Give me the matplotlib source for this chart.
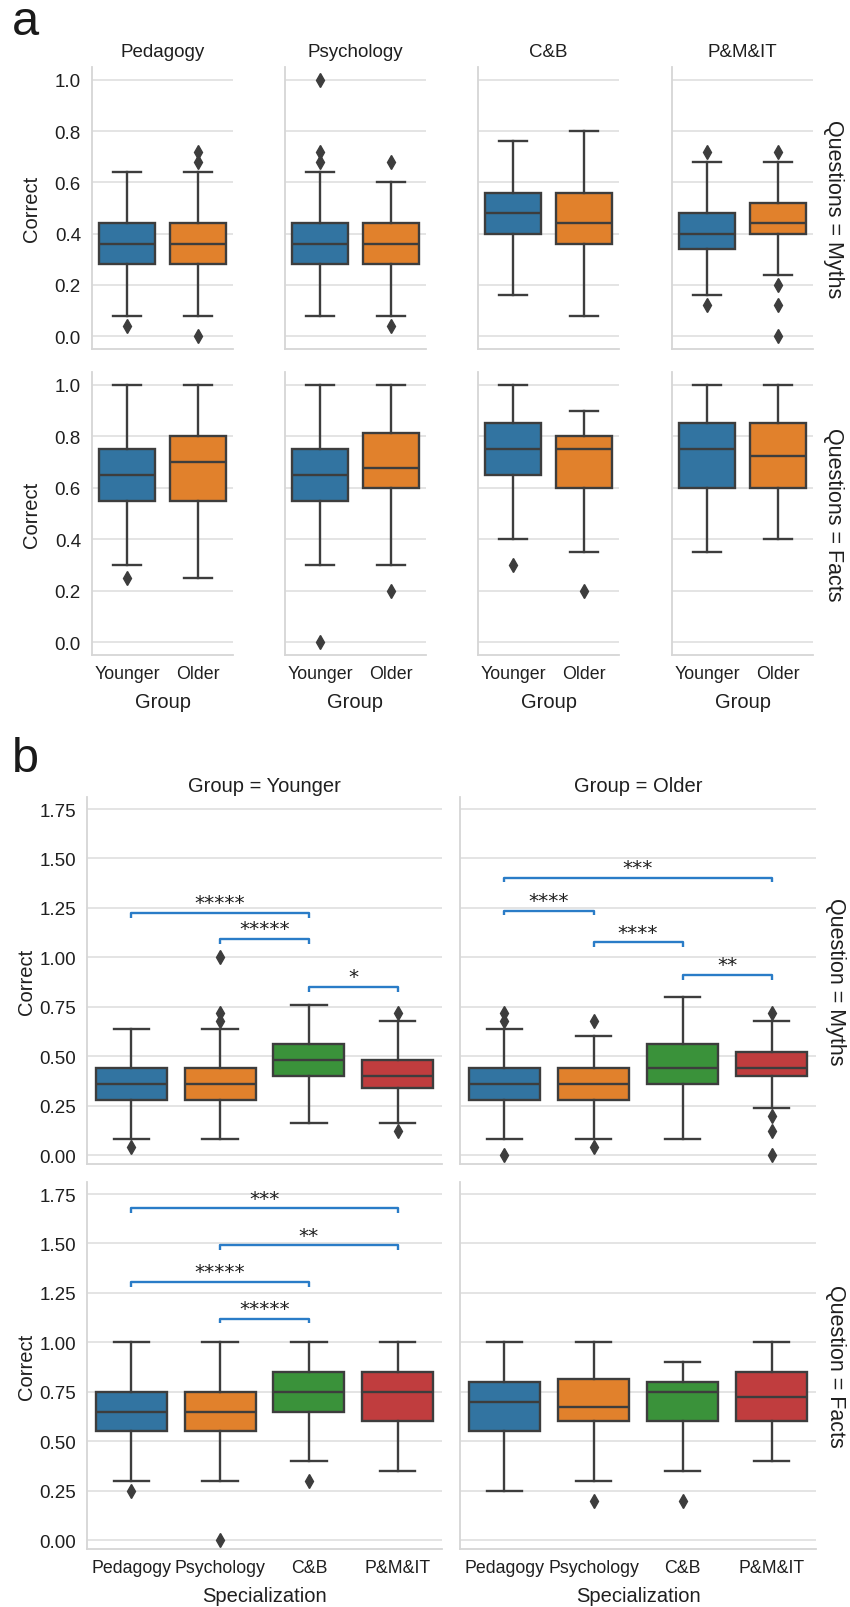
import matplotlib
matplotlib.use('Agg')
import matplotlib.pyplot as plt

plt.rcParams['font.family'] = ['Liberation Sans', 'DejaVu Sans']

specializations = ['Pedagogy', 'Psychology', 'C&B', 'P&M&IT']
groups = ['Younger', 'Older']
questions = ['Myths', 'Facts']

# box stats per specialization: (low whisker, Q1, median, Q3, high whisker)
myths_younger = [(0.08, 0.28, 0.36, 0.44, 0.64),
                 (0.08, 0.28, 0.36, 0.44, 0.64),
                 (0.16, 0.40, 0.48, 0.56, 0.76),
                 (0.16, 0.34, 0.40, 0.48, 0.68)]
myths_younger_fliers = [[0.04], [0.68, 0.72, 1.0], [], [0.12, 0.72]]
myths_older = [(0.08, 0.28, 0.36, 0.44, 0.64),
               (0.08, 0.28, 0.36, 0.44, 0.60),
               (0.08, 0.36, 0.44, 0.56, 0.80),
               (0.24, 0.40, 0.44, 0.52, 0.68)]
myths_older_fliers = [[0.0, 0.68, 0.72], [0.04, 0.68], [], [0.0, 0.12, 0.20, 0.72]]
facts_younger = [(0.30, 0.55, 0.65, 0.75, 1.0),
                 (0.30, 0.55, 0.65, 0.75, 1.0),
                 (0.40, 0.65, 0.75, 0.85, 1.0),
                 (0.35, 0.60, 0.75, 0.85, 1.0)]
facts_younger_fliers = [[0.25], [0.0], [0.30], []]
facts_older = [(0.25, 0.55, 0.70, 0.80, 1.0),
               (0.30, 0.60, 0.675, 0.8125, 1.0),
               (0.35, 0.60, 0.75, 0.80, 0.90),
               (0.40, 0.60, 0.725, 0.85, 1.0)]
facts_older_fliers = [[], [0.20], [0.20], []]

stats = {('Myths', 'Younger'): (myths_younger, myths_younger_fliers),
         ('Myths', 'Older'): (myths_older, myths_older_fliers),
         ('Facts', 'Younger'): (facts_younger, facts_younger_fliers),
         ('Facts', 'Older'): (facts_older, facts_older_fliers)}

# significance brackets for panel b: (question, group, from spec, to spec, height, stars)
brackets = [('Myths', 'Younger', 0, 2, 1.225, '*****'),
            ('Myths', 'Younger', 1, 2, 1.092, '*****'),
            ('Myths', 'Younger', 2, 3, 0.850, '*'),
            ('Myths', 'Older', 0, 3, 1.403, '***'),
            ('Myths', 'Older', 0, 1, 1.236, '****'),
            ('Myths', 'Older', 1, 2, 1.076, '****'),
            ('Myths', 'Older', 2, 3, 0.911, '**'),
            ('Facts', 'Younger', 0, 3, 1.677, '***'),
            ('Facts', 'Younger', 1, 3, 1.490, '**'),
            ('Facts', 'Younger', 0, 2, 1.306, '*****'),
            ('Facts', 'Younger', 1, 2, 1.120, '*****')]

palette = ['#3274a1', '#e1812c', '#3a923a', '#c03d3e']
gray = '#3d3d3d'
text_color = '#1f1f1f'
bracket_color = '#2a7cc7'

W, H = 850, 1608
fig = plt.figure(figsize=(W / 100, H / 100), dpi=100)


def px_axes(left, top, right, bottom):
    return fig.add_axes([left / W, 1 - bottom / H, (right - left) / W, (bottom - top) / H])


def style(ax):
    ax.set_axisbelow(True)
    ax.grid(axis='y', color='#dcdcdc', lw=1.1)
    for s in ['top', 'right']:
        ax.spines[s].set_visible(False)
    for s in ['left', 'bottom']:
        ax.spines[s].set_color('#d6d6d6')
        ax.spines[s].set_linewidth(1.3)
    ax.tick_params(axis='both', length=0)
    ax.tick_params(axis='y', pad=8, labelsize=13.5, labelcolor=text_color)
    ax.tick_params(axis='x', pad=7, labelsize=12.8, labelcolor=text_color)


def draw_boxes(ax, box_stats, fliers, colors):
    data = []
    for (lo, q1, med, q3, hi), fl in zip(box_stats, fliers):
        data.append({'whislo': lo, 'q1': q1, 'med': med, 'q3': q3, 'whishi': hi, 'fliers': fl})
    line = dict(color=gray, linewidth=1.7)
    art = ax.bxp(data, positions=range(len(data)), widths=0.8, patch_artist=True,
                 manage_ticks=False,
                 boxprops=dict(edgecolor=gray, linewidth=1.7),
                 medianprops=line, whiskerprops=line, capprops=line,
                 flierprops=dict(marker='d', markerfacecolor=gray, markeredgecolor=gray,
                                 markersize=7.5, linestyle='none'))
    for patch, c in zip(art['boxes'], colors):
        patch.set_facecolor(c)
    ax.set_xlim(-0.5, len(data) - 0.5)


# ---------------- panel a ----------------
a_lefts = [92, 285, 478, 672]
a_rows = [(68, 350), (373, 656)]
for i, q in enumerate(questions):
    top, bottom = a_rows[i]
    for j, spec in enumerate(specializations):
        ax = px_axes(a_lefts[j], top, a_lefts[j] + 141, bottom)
        style(ax)
        box_stats = [stats[(q, g)][0][j] for g in groups]
        fliers = [stats[(q, g)][1][j] for g in groups]
        draw_boxes(ax, box_stats, fliers, palette[:2])
        ax.set_ylim(-0.05, 1.05)
        ax.set_yticks([0, 0.2, 0.4, 0.6, 0.8, 1.0])
        ax.set_yticklabels(['%.1f' % v for v in ax.get_yticks()] if j == 0 else [])
        ax.set_xticks(range(len(groups)))
        if i == 1:
            ax.set_xticklabels(groups)
            ax.set_xlabel('Group', fontsize=14.5, color=text_color)
            ax.xaxis.set_label_coords(0.5, -0.13)
            ax.xaxis.label.set_va('top')
        else:
            ax.set_xticklabels([])
            ax.set_title(spec, fontsize=13.5, pad=8, color=text_color)
        if j == 0:
            ax.set_ylabel('Correct', fontsize=14.5, color=text_color)
            ax.yaxis.set_label_coords(-0.36, 0.5)
    fig.text(823 / W, 1 - ((top + bottom) / 2) / H, 'Questions = %s' % q, rotation=-90,
             ha='left', va='center', fontsize=15.5, color=text_color)

# ---------------- panel b ----------------
b_cols = [(87, 442), (460, 816)]
b_rows = [(798, 1165), (1183, 1550)]
for i, q in enumerate(questions):
    top, bottom = b_rows[i]
    for k, g in enumerate(groups):
        left, right = b_cols[k]
        ax = px_axes(left, top, right, bottom)
        style(ax)
        box_stats, fliers = stats[(q, g)]
        draw_boxes(ax, box_stats, fliers, palette)
        ax.set_ylim(-0.045, 1.811)
        ax.set_yticks([0, 0.25, 0.5, 0.75, 1.0, 1.25, 1.5, 1.75])
        ax.set_yticklabels(['%.2f' % v for v in ax.get_yticks()] if k == 0 else [])
        ax.set_xticks(range(len(specializations)))
        if i == 1:
            ax.set_xticklabels(specializations)
            ax.set_xlabel('Specialization', fontsize=14.5, color=text_color)
            ax.xaxis.set_label_coords(0.5, -0.1)
            ax.xaxis.label.set_va('top')
        else:
            ax.set_xticklabels([])
            ax.set_title('Group = %s' % g, fontsize=14.5, pad=4, color=text_color)
        if k == 0:
            ax.set_ylabel('Correct', fontsize=14.5, color=text_color)
            ax.yaxis.set_label_coords(-0.145, 0.5)
        for bq, bg, x1, x2, y, stars in brackets:
            if bq == q and bg == g:
                ax.plot([x1, x1, x2, x2], [y - 0.024, y, y, y - 0.024],
                        color=bracket_color, lw=1.7, solid_capstyle='butt')
                ax.text((x1 + x2) / 2, y + 0.004, stars, ha='center', va='bottom',
                        fontsize=14.5, color=text_color, family='DejaVu Sans')
    fig.text(825 / W, 1 - ((top + bottom) / 2) / H, 'Question = %s' % q, rotation=-90,
             ha='left', va='center', fontsize=15.5, color=text_color)

fig.text(12 / W, 1 - 35 / H, 'a', fontsize=35, color='#1a1a1a')
fig.text(12 / W, 1 - 772 / H, 'b', fontsize=35, color='#1a1a1a')

fig.savefig('out.png', dpi=100)
